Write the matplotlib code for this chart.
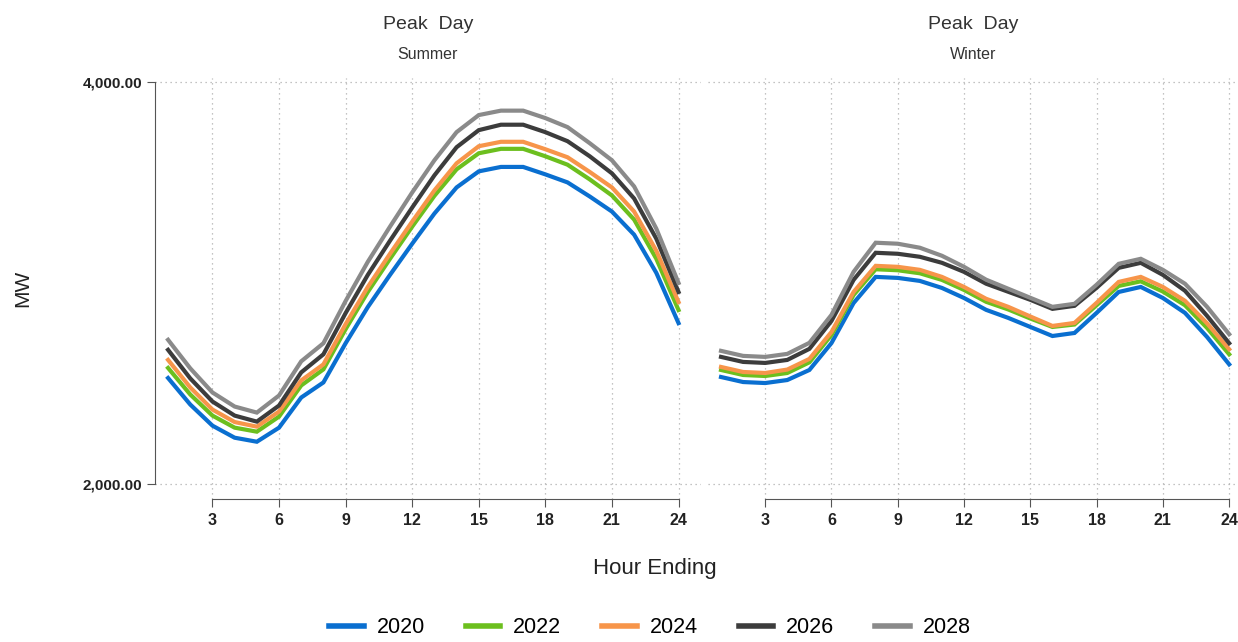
import matplotlib
matplotlib.use('Agg')
import matplotlib.pyplot as plt
from matplotlib.ticker import FuncFormatter

plt.rcParams['font.family'] = ['Liberation Sans', 'DejaVu Sans']

hours = list(range(1, 25))
years = ['2020', '2022', '2024', '2026', '2028']
colors = ['#0a6fd0', '#6cbf1e', '#f7954a', '#3c3c3c', '#8a8a8a']

# Summer peak day, MW by hour ending
summer_2020 = [2527, 2395, 2290, 2230, 2210, 2280, 2430, 2505, 2700, 2880, 3040, 3195,
               3345, 3475, 3555, 3577, 3577, 3540, 3500, 3430, 3355, 3240, 3050, 2800]
summer_2022 = [2577, 2445, 2340, 2280, 2260, 2335, 2490, 2570, 2770, 2955, 3120, 3280,
               3433, 3565, 3645, 3667, 3667, 3630, 3588, 3515, 3435, 3315, 3120, 2865]
summer_2024 = [2617, 2480, 2370, 2308, 2285, 2360, 2515, 2595, 2795, 2980, 3145, 3305,
               3460, 3595, 3680, 3702, 3702, 3665, 3625, 3552, 3475, 3355, 3160, 2905]
summer_2026 = [2667, 2525, 2410, 2340, 2310, 2390, 2555, 2645, 2850, 3040, 3210, 3375,
               3535, 3675, 3760, 3787, 3787, 3750, 3705, 3630, 3545, 3420, 3220, 2955]
summer_2028 = [2717, 2575, 2455, 2385, 2355, 2440, 2610, 2700, 2910, 3105, 3280, 3450,
               3610, 3750, 3835, 3857, 3857, 3820, 3775, 3695, 3610, 3480, 3270, 3000]

# Winter peak day
winter_2020 = [2532, 2507, 2502, 2517, 2567, 2701, 2900, 3030, 3025, 3010, 2975, 2925,
               2866, 2826, 2781, 2736, 2751, 2851, 2955, 2980, 2925, 2851, 2731, 2595]
winter_2022 = [2567, 2542, 2537, 2552, 2605, 2741, 2940, 3068, 3063, 3048, 3015, 2965,
               2906, 2868, 2823, 2781, 2793, 2889, 2985, 3008, 2957, 2889, 2776, 2645]
winter_2024 = [2582, 2557, 2552, 2569, 2622, 2756, 2955, 3085, 3080, 3065, 3030, 2980,
               2921, 2881, 2833, 2786, 2801, 2901, 3005, 3030, 2980, 2911, 2799, 2670]
winter_2026 = [2632, 2607, 2602, 2617, 2672, 2811, 3015, 3150, 3145, 3130, 3100, 3055,
               2996, 2956, 2916, 2871, 2886, 2976, 3075, 3100, 3040, 2961, 2836, 2700]
winter_2028 = [2662, 2637, 2632, 2647, 2702, 2841, 3055, 3200, 3195, 3175, 3135, 3080,
               3016, 2971, 2926, 2881, 2896, 2991, 3095, 3120, 3065, 2996, 2881, 2745]

summer = [summer_2020, summer_2022, summer_2024, summer_2026, summer_2028]
winter = [winter_2020, winter_2022, winter_2024, winter_2026, winter_2028]

xticks = [3, 6, 9, 12, 15, 18, 21, 24]
yticks = [2000, 4000]

fig = plt.figure(figsize=(12.38, 6.42), dpi=100)
ax1 = fig.add_axes([0.125, 0.2227, 0.441, 0.656])
ax2 = fig.add_axes([0.5717, 0.2227, 0.4283, 0.656])

for ax, data, season, xmax in [(ax1, summer, 'Summer', 25.0), (ax2, winter, 'Winter', 24.4)]:
    for vals, yr, c in zip(data, years, colors):
        ax.plot(hours, vals, color=c, linewidth=3.0, label=yr, solid_joinstyle='miter')
    ax.set_xlim(0.4, xmax)
    ax.set_ylim(1925, 4020)
    ax.set_xticks(xticks)
    ax.set_yticks(yticks)
    ax.grid(True, linestyle=(0, (1, 3)), color='#b0b0b0', linewidth=0.9)
    ax.set_axisbelow(True)
    for s in ['top', 'right']:
        ax.spines[s].set_visible(False)
    ax.spines['bottom'].set_bounds(3, 24)
    ax.spines['bottom'].set_color('#555555')
    ax.tick_params(axis='x', length=6, color='#555555', labelsize=11.5, pad=4)
    for lab in ax.get_xticklabels():
        lab.set_fontweight('bold')
        lab.set_color('#222222')
    ax.text(0.5, 1.126, 'Peak  Day', transform=ax.transAxes, ha='center', va='center',
            fontsize=14, color='#333333')
    ax.text(0.5, 1.055, season, transform=ax.transAxes, ha='center', va='center',
            fontsize=11.5, color='#333333')

ax1.spines['left'].set_bounds(2000, 4000)
ax1.spines['left'].set_color('#555555')
ax1.yaxis.set_major_formatter(FuncFormatter(lambda v, p: f'{v:,.2f}'))
ax1.tick_params(axis='y', length=6, color='#555555', labelsize=11, pad=3)
for lab in ax1.get_yticklabels():
    lab.set_fontweight('bold')
    lab.set_color('#222222')
ax1.set_ylabel('MW', fontsize=15, labelpad=36, color='#222222')

ax2.spines['left'].set_visible(False)
ax2.tick_params(axis='y', length=0, labelleft=False)

fig.text(0.529, 0.115, 'Hour Ending', ha='center', va='center', fontsize=16, color='#222222')

handles, labels = ax1.get_legend_handles_labels()
leg = fig.legend(handles, labels, loc='center', bbox_to_anchor=(0.525, 0.022), ncol=5,
                 frameon=False, fontsize=15.5, handlelength=1.6, columnspacing=1.9,
                 handletextpad=0.6)
for line in leg.get_lines():
    line.set_linewidth(4)

fig.savefig('out.png', dpi=100)
